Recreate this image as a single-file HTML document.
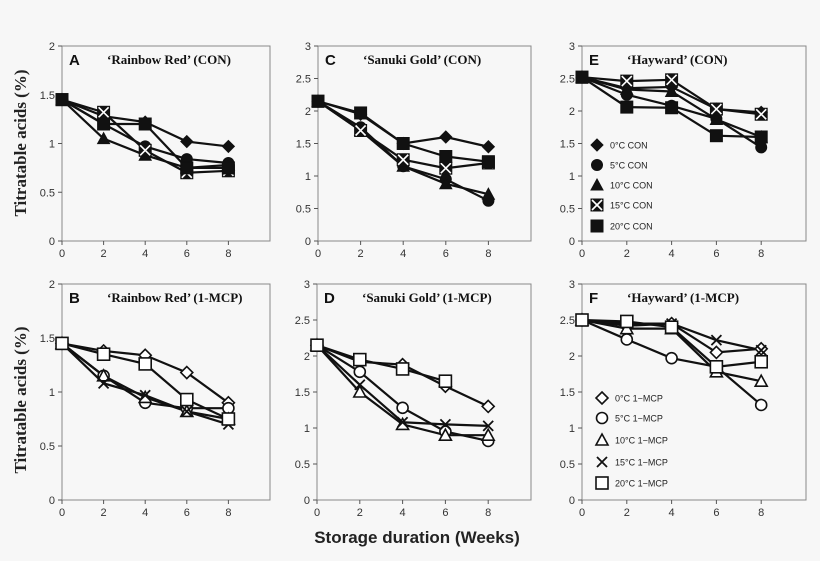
<!DOCTYPE html>
<html><head><meta charset="utf-8"><style>
body{margin:0;background:#f7f7f7;width:820px;height:561px;overflow:hidden}
svg{display:block}
</style></head><body>
<svg id="s" width="820" height="561" xmlns="http://www.w3.org/2000/svg" font-family="Liberation Sans, sans-serif">
<rect width="820" height="561" fill="#f7f7f7"/>
<text transform="translate(26,143) rotate(-90)" text-anchor="middle" font-family="Liberation Serif, serif" font-weight="bold" font-size="17" fill="#222">Titratable  acids (%)</text>
<text transform="translate(26,400) rotate(-90)" text-anchor="middle" font-family="Liberation Serif, serif" font-weight="bold" font-size="17" fill="#222">Titratable  acids (%)</text>
<text x="417" y="543" text-anchor="middle" font-weight="bold" font-size="17" fill="#222">Storage duration (Weeks)</text>
</svg>
<script>
const S=document.getElementById('s');const NS='http://www.w3.org/2000/svg';
function el(t,a,txt){const e=document.createElementNS(NS,t);for(const k in a)e.setAttribute(k,a[k]);if(txt!==undefined)e.textContent=txt;S.appendChild(e);return e;}
function marker(k,x,y,filled){const f=filled?'#111':'#fff';const sw=filled?1:1.6;
 if(k==0){const r=6;el('polygon',{points:`${x},${y-r} ${x+r},${y} ${x},${y+r} ${x-r},${y}`,fill:f,stroke:'#111','stroke-width':sw});}
 else if(k==1){el('circle',{cx:x,cy:y,r:5.5,fill:f,stroke:'#111','stroke-width':sw});}
 else if(k==2){el('polygon',{points:`${x},${y-6} ${x+6},${y+5} ${x-6},${y+5}`,fill:f,stroke:'#111','stroke-width':sw});}
 else if(k==3){if(filled){el('rect',{x:x-6.5,y:y-6.5,width:13,height:13,fill:'#111'});el('path',{d:`M${x-5} ${y-5}L${x+5} ${y+5}M${x+5} ${y-5}L${x-5} ${y+5}`,stroke:'#fff','stroke-width':1.6});}
  else el('path',{d:`M${x-5} ${y-5}L${x+5} ${y+5}M${x+5} ${y-5}L${x-5} ${y+5}`,stroke:'#111','stroke-width':1.8});}
 else {el('rect',{x:x-6,y:y-6,width:12,height:12,fill:f,stroke:'#111','stroke-width':sw});}
}
const panels=[
{L:62,R:270,T:46,B:241,max:2,let:'A',title:'‘Rainbow Red’ (CON)',filled:1,d:[[1.45,1.28,1.22,1.02,0.97],[1.45,1.2,0.97,0.84,0.8],[1.45,1.05,0.88,0.75,0.78],[1.45,1.32,0.93,0.7,0.72],[1.45,1.2,1.2,0.75,0.75]]},
{L:318,R:531,T:46,B:241,max:3,let:'C',title:'‘Sanuki Gold’ (CON)',filled:1,d:[[2.15,1.95,1.5,1.6,1.45],[2.15,1.75,1.15,0.95,0.62],[2.15,1.7,1.15,0.88,0.72],[2.15,1.7,1.25,1.12,1.2],[2.15,1.97,1.5,1.3,1.22]]},
{L:582,R:806,T:46,B:241,max:3,let:'E',title:'‘Hayward’ (CON)',filled:1,d:[[2.52,2.35,2.37,2.03,1.98],[2.52,2.25,2.08,1.88,1.44],[2.52,2.33,2.3,1.87,1.6],[2.52,2.46,2.48,2.03,1.95],[2.52,2.06,2.05,1.62,1.6]],leg:{x:597,ys:[145,165,185,205,226],lab:'CON'}},
{L:62,R:270,T:284,B:500,max:2,let:'B',title:'‘Rainbow Red’ (1-MCP)',filled:0,d:[[1.45,1.38,1.34,1.18,0.9],[1.45,1.15,0.9,0.85,0.85],[1.45,1.15,0.95,0.82,0.75],[1.45,1.08,0.97,0.82,0.7],[1.45,1.35,1.26,0.93,0.75]]},
{L:317,R:531,T:284,B:500,max:3,let:'D',title:'‘Sanuki  Gold’ (1-MCP)',filled:0,d:[[2.15,1.92,1.88,1.58,1.3],[2.15,1.78,1.28,0.95,0.82],[2.15,1.5,1.05,0.9,0.9],[2.15,1.6,1.08,1.05,1.03],[2.15,1.95,1.82,1.65]]},
{L:582,R:806,T:284,B:500,max:3,let:'F',title:'‘Hayward’ (1-MCP)',filled:0,d:[[2.5,2.42,2.45,2.05,2.1],[2.5,2.23,1.97,1.85,1.32],[2.5,2.38,2.38,1.78,1.65],[2.5,2.45,2.45,2.22,2.08],[2.5,2.48,2.4,1.85,1.92]],leg:{x:602,ys:[398,418,440,462,483],lab:'1−MCP'}}
];
const temps=['0','5','10','15','20'];
panels.forEach(p=>{
 const X=w=>p.L+(p.R-p.L)*w/10, Y=v=>p.B-(p.B-p.T)*v/p.max;
 el('rect',{x:p.L,y:p.T,width:p.R-p.L,height:p.B-p.T,fill:'none',stroke:'#888','stroke-width':1});
 for(let v=0;v<=p.max+1e-9;v+=0.5){const y=Y(v);el('line',{x1:p.L-4,x2:p.L,y1:y,y2:y,stroke:'#555'});
  el('text',{x:p.L-7,y:y+4,'text-anchor':'end','font-size':11,fill:'#333'},String(v));}
 for(let w=0;w<=8;w+=2){const x=X(w);el('line',{x1:x,x2:x,y1:p.B,y2:p.B+4,stroke:'#555'});
  el('text',{x:x,y:p.B+16,'text-anchor':'middle','font-size':11,fill:'#333'},String(w));}
 el('text',{x:p.L+7,y:p.T+19,'font-size':15,'font-weight':'bold',fill:'#111'},p.let);
 el('text',{x:p.L+45,y:p.T+18,'font-size':13,'font-weight':'bold','font-family':'Liberation Serif, serif',fill:'#111'},p.title);
 p.d.forEach(s=>{el('polyline',{points:s.map((v,i)=>X(2*i)+','+Y(v)).join(' '),fill:'none',stroke:'#111','stroke-width':2.2});});
 p.d.forEach((s,k)=>s.forEach((v,i)=>marker(k,X(2*i),Y(v),p.filled)));
 if(p.leg){p.leg.ys.forEach((y,k)=>{marker(k,p.leg.x,y,p.filled);
  el('text',{x:p.leg.x+13,y:y+3.5,'font-size':9,fill:'#222'},temps[k]+'°C  '+p.leg.lab);});}
});
</script>
</body></html>
